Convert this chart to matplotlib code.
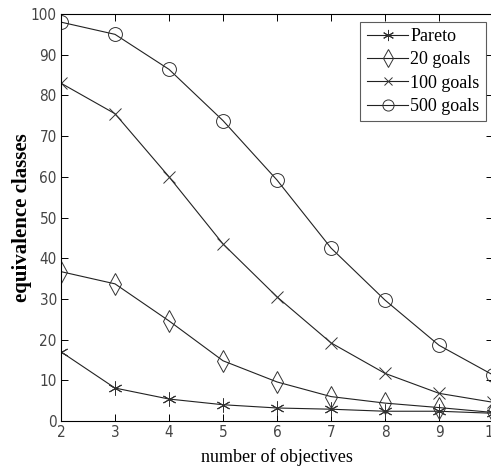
import matplotlib
matplotlib.use("Agg")
import matplotlib.pyplot as plt

objectives = [2, 3, 4, 5, 6, 7, 8, 9, 10]
pareto = [17, 8.1, 5.4, 4.0, 3.2, 2.9, 2.4, 2.4, 1.9]
goals_20 = [36.7, 33.7, 24.6, 14.8, 9.6, 6.0, 4.4, 3.3, 2.1]
goals_100 = [83, 75.5, 60, 43.5, 30.5, 19.2, 11.7, 6.8, 4.6]
goals_500 = [98, 95, 86.4, 73.8, 59.2, 42.5, 29.7, 18.6, 11.3]
labels = ["Pareto", "20 goals", "100 goals", "500 goals"]

fig = plt.figure(figsize=(4.91, 4.68), dpi=100)
ax = fig.add_axes([0.1242, 0.1004, 0.88, 0.8697])

line_kw = dict(color="#222222", linewidth=0.8, markerfacecolor="none",
               markeredgecolor="#333333", markeredgewidth=0.7)
ax.plot(objectives, pareto, marker=(6, 2, 0), markersize=10, label=labels[0], **line_kw)
ax.plot(objectives, goals_20, marker="d", markersize=11, label=labels[1], **line_kw)
ax.plot(objectives, goals_100, marker="x", markersize=8, label=labels[2], **line_kw)
ax.plot(objectives, goals_500, marker="o", markersize=10, label=labels[3], **line_kw)

ax.set_xlim(2, 10)
ax.set_ylim(0, 100)
ax.set_xticks(objectives)
ax.set_yticks(range(0, 101, 10))
ax.tick_params(direction="in", top=True, right=True, length=5, width=0.7,
               labelsize=11, labelcolor="#444444", pad=3)
for lab in ax.get_xticklabels() + ax.get_yticklabels():
    lab.set_family("DejaVu Sans")
    lab.set_stretch("condensed")

ax.set_xlabel("number of objectives", family="Liberation Serif", fontsize=13, labelpad=6)
ax.set_ylabel("equivalence classes", family="Liberation Serif", fontsize=15,
              fontweight="bold", labelpad=-1)

leg = ax.legend(loc="upper right", bbox_to_anchor=(0.983, 0.981),
                prop={"family": "Liberation Serif", "size": 13},
                frameon=True, fancybox=False, edgecolor="#333333",
                handlelength=2.3, handletextpad=0.1, labelspacing=0.35,
                borderpad=0.35, borderaxespad=0.0, markerscale=0.8)
leg.get_frame().set_linewidth(0.8)
for sp in ax.spines.values():
    sp.set_linewidth(0.8)

fig.savefig("out.png", dpi=100)
